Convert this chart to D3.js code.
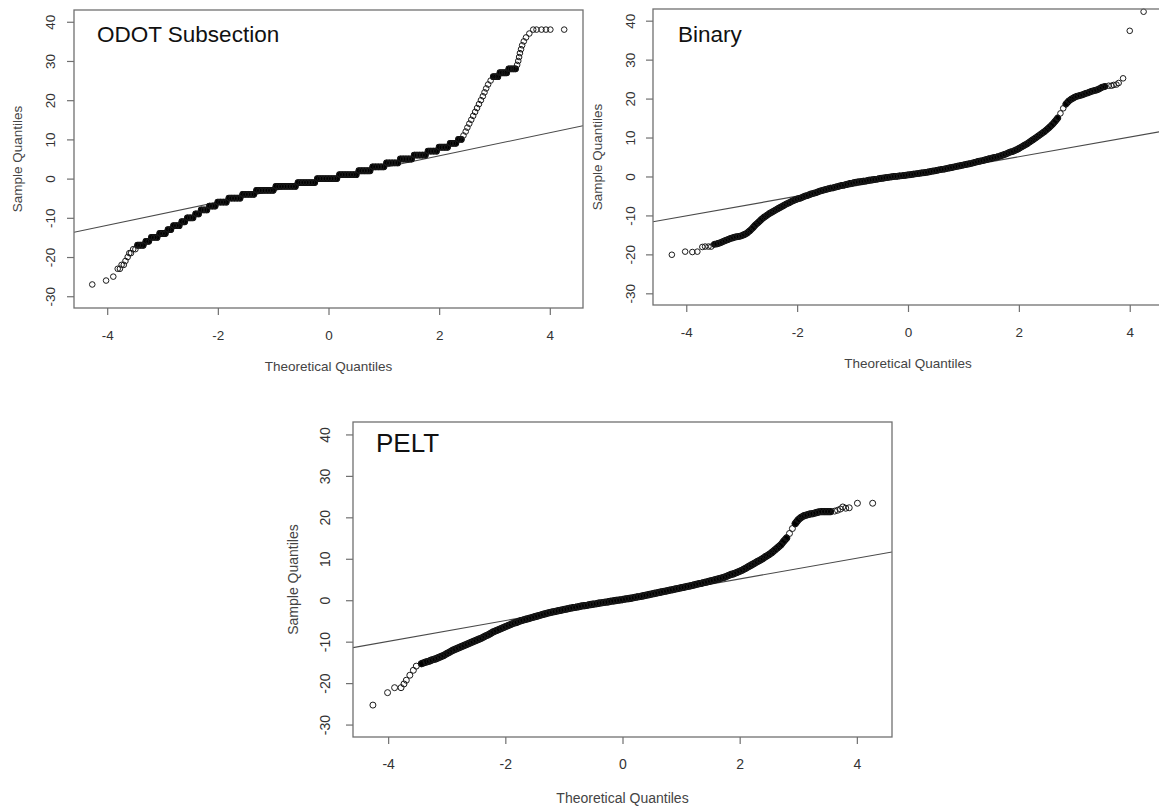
<!DOCTYPE html>
<html><head><meta charset="utf-8">
<script src="https://cdn.jsdelivr.net/npm/d3@7"></script>
<style>
body{margin:0;background:#fff}
svg{display:block;font-family:"Liberation Sans",Arial,sans-serif}
</style>
</head><body>
<svg id="chart" width="1159" height="810"></svg>
<script>
// ---------- data ----------
const panelTitles = ["ODOT Subsection", "Binary", "PELT"];
const xLabel = "Theoretical Quantiles";
const yLabel = "Sample Quantiles";
const xTicks = [-4, -2, 0, 2, 4];
const yTicks = [-30, -20, -10, 0, 10, 20, 30, 40];
const xDomain = [-4.6, 4.6];
const yDomain = [-33, 43];
// reference (qqline) slope / intercept per panel
const lineSlopes = [2.95, 2.53, 2.51];
const lineIntercepts = [-0.1, 0.0, 0.1];
// theoretical-quantile range in which the points are so numerous they overplot into a solid band
const denseRanges = [[-3.45, 3.40], [-3.50, 3.55], [-3.45, 3.55]];

// ODOT Subsection: [theoretical quantile, sample quantile]
const odotPoints = [
[-4.27,-27],[-4.02,-26],[-3.89,-25],[-3.81,-23],[-3.77,-23],[-3.74,-22],[-3.70,-22],[-3.67,-21],[-3.63,-20],[-3.60,-19],[-3.57,-19],[-3.53,-18],[-3.49,-18],[-3.45,-17],
[-3.40,-17],[-3.35,-17],[-3.30,-16],[-3.25,-16],[-3.20,-15],[-3.15,-15],[-3.10,-15],[-3.05,-14],[-3.00,-14],[-2.95,-14],
[-2.90,-13],[-2.85,-13],[-2.80,-12],[-2.75,-12],[-2.70,-12],[-2.65,-11],[-2.60,-11],[-2.55,-10],[-2.50,-10],[-2.45,-10],
[-2.40,-9],[-2.35,-9],[-2.30,-8],[-2.25,-8],[-2.20,-8],[-2.15,-7],[-2.10,-7],[-2.05,-7],[-2.00,-6],[-1.95,-6],
[-1.90,-6],[-1.85,-6],[-1.80,-5],[-1.75,-5],[-1.70,-5],[-1.65,-5],[-1.60,-5],[-1.55,-4],[-1.50,-4],[-1.45,-4],
[-1.40,-4],[-1.35,-4],[-1.30,-3],[-1.25,-3],[-1.20,-3],[-1.15,-3],[-1.10,-3],[-1.05,-3],[-1.00,-3],[-0.95,-2],
[-0.90,-2],[-0.85,-2],[-0.80,-2],[-0.75,-2],[-0.70,-2],[-0.65,-2],[-0.60,-2],[-0.55,-1],[-0.50,-1],[-0.45,-1],
[-0.40,-1],[-0.35,-1],[-0.30,-1],[-0.25,-1],[-0.20,0],[-0.15,0],[-0.10,0],[-0.05,0],[0.00,0],[0.05,0],
[0.10,0],[0.15,0],[0.20,1],[0.25,1],[0.30,1],[0.35,1],[0.40,1],[0.45,1],[0.50,1],[0.55,2],
[0.60,2],[0.65,2],[0.70,2],[0.75,2],[0.80,3],[0.85,3],[0.90,3],[0.95,3],[1.00,3],[1.05,4],
[1.10,4],[1.15,4],[1.20,4],[1.25,4],[1.30,5],[1.35,5],[1.40,5],[1.45,5],[1.50,5],[1.55,6],
[1.60,6],[1.65,6],[1.70,6],[1.75,6],[1.80,7],[1.85,7],[1.90,7],[1.95,7],[2.00,8],[2.05,8],
[2.10,8],[2.15,8],[2.20,9],[2.25,9],[2.30,9],[2.35,10],[2.40,10],
[2.44,11],[2.48,12],[2.51,13],[2.545,14],[2.58,15],[2.615,16],[2.65,17],[2.685,18],[2.72,19],[2.755,20],
[2.79,21],[2.82,22],[2.85,23],[2.885,24],[2.93,25],[2.98,26],[3.02,26],[3.06,26],[3.10,27],[3.14,27],
[3.18,27],[3.22,27],[3.26,28],[3.30,28],[3.34,28],[3.38,28],[3.41,29],[3.43,30],[3.445,31],[3.46,32],
[3.48,33],[3.50,34],[3.53,35],[3.57,36],[3.63,37],[3.70,38],[3.76,38],[3.85,38],[3.93,38],[4.01,38],[4.26,38]
];

// Binary
const binaryPoints = [
[-4.26,-20.1],[-4.02,-19.3],[-3.89,-19.4],[-3.80,-19.3],[-3.71,-18.1],[-3.66,-18.0],[-3.60,-18.0],[-3.55,-18.0],[-3.49,-17.4],[-3.45,-17.3],
[-3.40,-17.1],[-3.35,-16.8],[-3.30,-16.5],[-3.25,-16.2],[-3.20,-15.9],[-3.15,-15.7],[-3.10,-15.5],[-3.05,-15.4],[-3.00,-15.2],[-2.95,-14.9],
[-2.90,-14.5],[-2.85,-13.9],[-2.80,-13.2],[-2.75,-12.4],[-2.70,-11.8],[-2.65,-11.1],[-2.60,-10.5],[-2.55,-10.0],[-2.50,-9.5],[-2.45,-9.1],
[-2.40,-8.7],[-2.35,-8.3],[-2.30,-7.9],[-2.25,-7.5],[-2.20,-7.1],[-2.15,-6.8],[-2.10,-6.4],[-2.05,-6.1],[-2.00,-5.8],[-1.95,-5.6],
[-1.90,-5.3],[-1.85,-5.0],[-1.80,-4.8],[-1.75,-4.5],[-1.70,-4.3],[-1.65,-4.1],[-1.60,-3.8],[-1.55,-3.6],[-1.50,-3.4],[-1.45,-3.2],
[-1.40,-3.0],[-1.35,-2.9],[-1.30,-2.7],[-1.25,-2.5],[-1.20,-2.3],[-1.15,-2.2],[-1.10,-2.0],[-1.05,-1.8],[-1.00,-1.7],[-0.95,-1.5],
[-0.90,-1.4],[-0.85,-1.3],[-0.80,-1.2],[-0.75,-1.1],[-0.70,-0.95],[-0.65,-0.85],[-0.60,-0.75],[-0.55,-0.65],[-0.50,-0.5],[-0.45,-0.4],
[-0.40,-0.3],[-0.35,-0.2],[-0.30,-0.1],[-0.25,0.0],[-0.20,0.05],[-0.15,0.15],[-0.10,0.2],[-0.05,0.3],[0.00,0.4],[0.05,0.5],
[0.10,0.6],[0.15,0.7],[0.20,0.8],[0.25,0.9],[0.30,1.0],[0.35,1.1],[0.40,1.25],[0.45,1.4],[0.50,1.5],[0.55,1.65],
[0.60,1.8],[0.65,1.9],[0.70,2.05],[0.75,2.2],[0.80,2.35],[0.85,2.5],[0.90,2.65],[0.95,2.8],[1.00,2.95],[1.05,3.1],
[1.10,3.25],[1.15,3.4],[1.20,3.6],[1.25,3.8],[1.30,3.95],[1.35,4.1],[1.40,4.3],[1.45,4.5],[1.50,4.65],[1.55,4.85],
[1.60,5.0],[1.65,5.2],[1.70,5.45],[1.75,5.7],[1.80,6.0],[1.85,6.3],[1.90,6.5],[1.95,6.8],[2.00,7.2],[2.05,7.6],
[2.10,8.0],[2.15,8.4],[2.20,8.9],[2.25,9.4],[2.30,9.9],[2.35,10.4],[2.40,10.9],[2.45,11.4],[2.50,12.0],[2.55,12.6],
[2.60,13.3],[2.65,14.1],[2.70,15.0],[2.75,16.2],[2.80,17.5],[2.85,18.6],[2.90,19.4],[2.95,19.9],[3.00,20.3],[3.05,20.6],
[3.10,20.8],[3.15,21.0],[3.20,21.3],[3.25,21.5],[3.30,21.8],[3.35,22.0],[3.40,22.2],[3.45,22.5],[3.50,22.9],
[3.55,23.1],[3.62,23.3],[3.67,23.3],[3.71,23.5],[3.76,23.6],[3.80,24.0],[3.88,25.2],[4.00,37.4],[4.25,42.3]
];

// PELT
const peltPoints = [
[-4.26,-25.3],[-4.01,-22.3],[-3.89,-21.1],[-3.78,-21.1],[-3.73,-20.2],[-3.69,-19.3],[-3.63,-18.1],[-3.57,-16.9],[-3.52,-15.9],[-3.43,-15.3],
[-3.35,-14.9],[-3.30,-14.7],[-3.25,-14.4],[-3.20,-14.2],[-3.15,-13.9],[-3.10,-13.6],[-3.05,-13.3],[-3.00,-12.9],[-2.95,-12.5],[-2.90,-12.1],
[-2.85,-11.8],[-2.80,-11.5],[-2.75,-11.2],[-2.70,-10.9],[-2.65,-10.6],[-2.60,-10.3],[-2.55,-10.0],[-2.50,-9.7],[-2.45,-9.4],[-2.40,-9.1],
[-2.35,-8.7],[-2.30,-8.4],[-2.25,-8.0],[-2.20,-7.6],[-2.15,-7.3],[-2.10,-7.0],[-2.05,-6.7],[-2.00,-6.4],[-1.95,-6.1],[-1.90,-5.8],
[-1.85,-5.5],[-1.80,-5.3],[-1.75,-5.0],[-1.70,-4.8],[-1.65,-4.6],[-1.60,-4.4],[-1.55,-4.2],[-1.50,-4.0],[-1.45,-3.8],[-1.40,-3.6],
[-1.35,-3.4],[-1.30,-3.2],[-1.25,-3.0],[-1.20,-2.85],[-1.15,-2.7],[-1.10,-2.55],[-1.05,-2.4],[-1.00,-2.25],[-0.95,-2.1],[-0.90,-1.95],
[-0.85,-1.8],[-0.80,-1.7],[-0.75,-1.55],[-0.70,-1.4],[-0.65,-1.3],[-0.60,-1.2],[-0.55,-1.05],[-0.50,-0.95],[-0.45,-0.85],[-0.40,-0.7],
[-0.35,-0.6],[-0.30,-0.5],[-0.25,-0.4],[-0.20,-0.25],[-0.15,-0.15],[-0.10,-0.05],[-0.05,0.05],[0.00,0.15],[0.05,0.3],[0.10,0.4],
[0.15,0.5],[0.20,0.65],[0.25,0.8],[0.30,0.9],[0.35,1.05],[0.40,1.2],[0.45,1.35],[0.50,1.5],[0.55,1.65],[0.60,1.8],
[0.65,1.95],[0.70,2.1],[0.75,2.25],[0.80,2.4],[0.85,2.55],[0.90,2.7],[0.95,2.85],[1.00,3.0],[1.05,3.15],[1.10,3.3],
[1.15,3.45],[1.20,3.6],[1.25,3.8],[1.30,3.95],[1.35,4.1],[1.40,4.3],[1.45,4.45],[1.50,4.65],[1.55,4.8],[1.60,5.0],
[1.65,5.2],[1.70,5.4],[1.75,5.6],[1.80,5.9],[1.85,6.2],[1.90,6.4],[1.95,6.7],[2.00,7.0],[2.05,7.3],[2.10,7.7],
[2.15,8.1],[2.20,8.5],[2.25,8.9],[2.30,9.3],[2.35,9.7],[2.40,10.1],[2.45,10.6],[2.50,11.0],[2.55,11.5],[2.60,12.1],
[2.65,12.7],[2.70,13.3],[2.75,14.2],[2.80,15.0],[2.85,16.1],[2.90,17.3],[2.95,18.5],[3.00,19.4],[3.05,20.0],[3.10,20.4],
[3.15,20.6],[3.20,20.8],[3.25,20.9],[3.30,21.1],[3.35,21.3],[3.40,21.4],[3.45,21.4],[3.50,21.4],[3.55,21.4],
[3.62,21.5],[3.67,21.7],[3.72,22.0],[3.76,22.5],[3.81,22.2],[3.87,22.3],[4.01,23.4],[4.27,23.4]
];

// ---------- layout ----------
const layouts = [
  {x0:74, x1:583, y0:10, y1:308, titleX:97, titleY:42, titleSize:22.5, tickFs:13.5, labFs:13.5,
   xLabY:371, yLabX:17.5, yTickOff:24, r:2.8, overlap:4.2},
  {x0:653, x1:1163, y0:9, y1:305, titleX:678, titleY:42, titleSize:22.5, tickFs:13.5, labFs:13.5,
   xLabY:368, yLabX:597.5, yTickOff:23, r:2.8, overlap:5.0},
  {x0:353, x1:892, y0:422, y1:737, titleX:376, titleY:452, titleSize:26, tickFs:14, labFs:14,
   xLabY:803, yLabX:293, yTickOff:28, r:3.0, overlap:5.0}
];
const pointSets = [odotPoints, binaryPoints, peltPoints];

const svg = d3.select("#chart");
const FONT = "'Liberation Sans', Arial, sans-serif";

function drawPanel(i) {
  const L = layouts[i];
  const pts = pointSets[i];
  const [dLo, dHi] = denseRanges[i];
  const x = d3.scaleLinear().domain(xDomain).range([L.x0, L.x1]);
  const y = d3.scaleLinear().domain(yDomain).range([L.y1, L.y0]);
  const g = svg.append("g");

  svg.append("clipPath").attr("id", "clip" + i)
    .append("rect").attr("x", L.x0).attr("y", L.y0)
    .attr("width", L.x1 - L.x0).attr("height", L.y1 - L.y0);

  // reference line
  g.append("line")
    .attr("clip-path", `url(#clip${i})`)
    .attr("x1", x(xDomain[0])).attr("y1", y(lineSlopes[i] * xDomain[0] + lineIntercepts[i]))
    .attr("x2", x(xDomain[1])).attr("y2", y(lineSlopes[i] * xDomain[1] + lineIntercepts[i]))
    .attr("stroke", "#4a4a4a").attr("stroke-width", 1.1);

  // overplotted band: consecutive points inside the dense range whose circles crowd together
  const runs = [];
  let cur = [];
  for (let k = 0; k < pts.length; k++) {
    const b = pts[k];
    const inDense = b[0] >= dLo - 1e-9 && b[0] <= dHi + 1e-9;
    if (!inDense) { if (cur.length) runs.push(cur); cur = []; continue; }
    if (cur.length) {
      const a = cur[cur.length - 1];
      const dpx = Math.hypot(x(b[0]) - x(a[0]), y(b[1]) - y(a[1]));
      if (dpx < L.overlap) cur.push(b);
      else { runs.push(cur); cur = [b]; }
    } else cur = [b];
  }
  if (cur.length) runs.push(cur);
  const line = d3.line().x(d => x(d[0])).y(d => y(d[1]));
  g.append("g").selectAll("path").data(runs.filter(r => r.length > 1)).join("path")
    .attr("d", line).attr("fill", "none").attr("stroke", "#000")
    .attr("stroke-width", 2 * L.r + 1.2).attr("stroke-linecap", "round").attr("stroke-linejoin", "round");

  // points (open circles, pch = 1)
  g.append("g").selectAll("circle").data(pts).join("circle")
    .attr("cx", d => x(d[0])).attr("cy", d => y(d[1])).attr("r", L.r)
    .attr("fill", "none").attr("stroke", "#1a1a1a").attr("stroke-width", 1);

  // box
  g.append("rect").attr("x", L.x0).attr("y", L.y0)
    .attr("width", L.x1 - L.x0).attr("height", L.y1 - L.y0)
    .attr("fill", "none").attr("stroke", "#707070").attr("stroke-width", 1.3);

  // x axis
  const xa = g.append("g").attr("transform", `translate(0,${L.y1})`)
    .call(d3.axisBottom(x).tickValues(xTicks).tickSize(7).tickPadding(15));
  xa.select(".domain").remove();
  xa.selectAll("line").attr("stroke", "#707070").attr("stroke-width", 1.2);
  xa.selectAll("text").attr("font-size", L.tickFs).attr("fill", "#333")
    .attr("font-family", FONT)
    .text(d => d < 0 ? "-" + Math.abs(d) : String(d));

  // y axis
  const ya = g.append("g").attr("transform", `translate(${L.x0},0)`)
    .call(d3.axisLeft(y).tickValues(yTicks).tickSize(7));
  ya.select(".domain").remove();
  ya.selectAll("line").attr("stroke", "#707070").attr("stroke-width", 1.2);
  ya.selectAll("text")
    .attr("x", null).attr("dy", "0.35em")
    .attr("transform", `translate(${-L.yTickOff},0) rotate(-90)`)
    .attr("text-anchor", "middle")
    .attr("font-size", L.tickFs).attr("fill", "#333")
    .attr("font-family", FONT)
    .text(d => d < 0 ? "-" + Math.abs(d) : String(d));

  // axis titles
  g.append("text").attr("x", (L.x0 + L.x1) / 2).attr("y", L.xLabY)
    .attr("text-anchor", "middle").attr("font-size", L.labFs).attr("fill", "#444")
    .text(xLabel);
  g.append("text")
    .attr("transform", `translate(${L.yLabX},${(L.y0 + L.y1) / 2}) rotate(-90)`)
    .attr("dy", "0.35em").attr("text-anchor", "middle")
    .attr("font-size", L.labFs).attr("fill", "#444")
    .text(yLabel);

  // panel title
  g.append("text").attr("x", L.titleX).attr("y", L.titleY)
    .attr("font-size", L.titleSize).attr("fill", "#111")
    .text(panelTitles[i]);
}

[0, 1, 2].forEach(drawPanel);
</script>
</body></html>
